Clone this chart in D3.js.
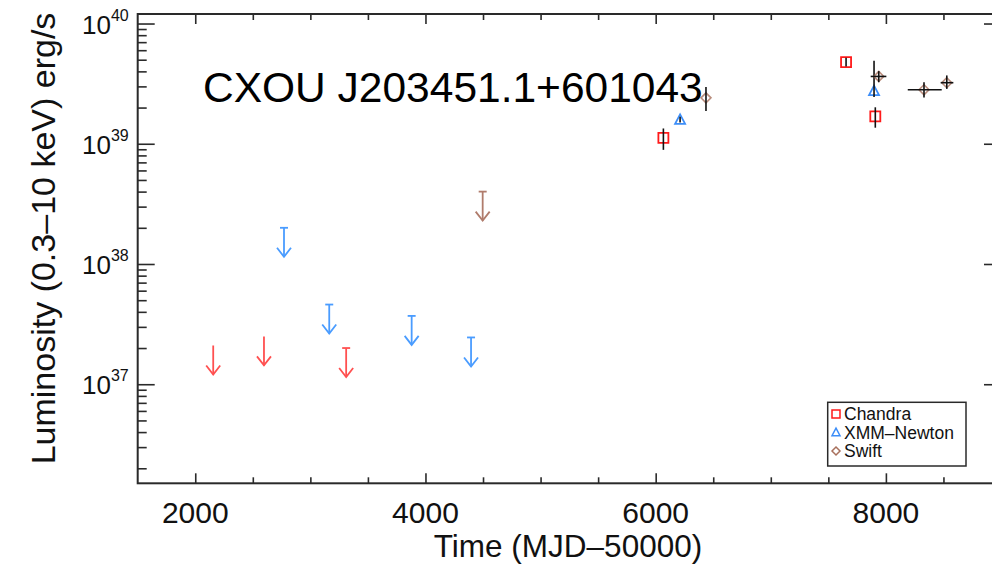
<!DOCTYPE html>
<html>
<head>
<meta charset="utf-8">
<script src="https://cdn.jsdelivr.net/npm/d3@7"></script>
<style>
  html, body { margin: 0; padding: 0; background: #fff; }
  svg { display: block; font-family: "Liberation Sans", Arial, Helvetica, sans-serif; }
</style>
</head>
<body>
<svg id="chart" width="992" height="567"></svg>
<script>
// ---------- data ----------
const sourceName = "CXOU J203451.1+601043";
const xTitle = "Time (MJD\u201350000)";
const yTitle = "Luminosity (0.3\u201310 keV) erg/s";
const xMajorTicks = [2000, 4000, 6000, 8000];
const yMajorExponents = [37, 38, 39, 40];
const legendLabels = ["Chandra", "XMM\u2013Newton", "Swift"];

// upper limits (value = limit, arrow points down)
const ulTime = [2156, 2597, 2771, 3164, 3311, 3880, 4396, 4497];
const ulLum = [2.1e37, 2.5e37, 2.0e38, 4.6e37, 2.0e37, 3.7e37, 2.45e37, 4.0e38];
const ulMission = ["Chandra", "Chandra", "XMM", "XMM", "Chandra", "XMM", "XMM", "Swift"];
const ulCapped = [false, false, true, true, true, true, true, true];

// Chandra detections
const chandraTime = [6067, 7654, 7908];
const chandraLum = [1.12e39, 4.77e39, 1.69e39];
const chandraLumLo = [8.9e38, 4.4e39, 1.36e39];
const chandraLumHi = [1.34e39, 5.2e39, 2.01e39];

// XMM-Newton detections
const xmmTime = [6212, 7897];
const xmmLum = [1.58e39, 2.74e39];
const xmmLumLo = [1.50e39, 2.45e39];
const xmmLumHi = [1.68e39, 4.9e39];

// Swift detections
const swiftTime = [6437, 7938, 8331, 8529];
const swiftTimeLo = [6437, 7868, 8190, 8476];
const swiftTimeHi = [6437, 8004, 8485, 8586];
const swiftLum = [2.41e39, 3.63e39, 2.81e39, 3.22e39];
const swiftLumLo = [1.87e39, 3.25e39, 2.42e39, 2.86e39];
const swiftLumHi = [2.96e39, 4.02e39, 3.25e39, 3.7e39];

// ---------- drawing ----------
(function draw() {
const colors = { Chandra: "#ff1a1a", XMM: "#3d8ef8", Swift: "#a8705c" };
const ulColors = { Chandra: "#ff5050", XMM: "#4a9cff", Swift: "#b07c6c" };

const svg = d3.select("#chart");
const pL = 137.7, pR = 1001, pT = 14, pB = 483.3;

const x = d3.scaleLinear().domain([1500, 9000]).range([pL, pR]);
const y = d3.scaleLog().domain([1.5e36, 1.2e40]).range([pB, pT]);

const axisColor = "#2a2a2a";

const xMinor = d3.range(1500, 9001, 500).filter(v => !xMajorTicks.includes(v) && v > 1500 && v < 9000);
function styleAxis(g) {
  g.select(".domain").remove();
  g.selectAll(".tick line").attr("stroke", axisColor).attr("stroke-width", 1.6);
  g.selectAll(".tick text").remove();
}
svg.append("g").attr("transform", `translate(0,${pB})`)
  .call(d3.axisBottom(x).tickValues(xMajorTicks).tickSize(-10)).call(styleAxis);
svg.append("g").attr("transform", `translate(0,${pB})`)
  .call(d3.axisBottom(x).tickValues(xMinor).tickSize(-6)).call(styleAxis);
svg.append("g").attr("transform", `translate(0,${pT})`)
  .call(d3.axisTop(x).tickValues(xMajorTicks).tickSize(-10)).call(styleAxis);
svg.append("g").attr("transform", `translate(0,${pT})`)
  .call(d3.axisTop(x).tickValues(xMinor).tickSize(-6)).call(styleAxis);

const yMajor = yMajorExponents.map(e => Math.pow(10, e));
const yMinor = [];
for (let e = 36; e <= 40; e++) for (let m = 2; m <= 9; m++) {
  const v = m * Math.pow(10, e);
  if (v > 1.5e36 && v < 1.2e40) yMinor.push(v);
}
svg.append("g").attr("transform", `translate(${pL},0)`)
  .call(d3.axisLeft(y).tickValues(yMajor).tickSize(-17)).call(styleAxis);
svg.append("g").attr("transform", `translate(${pL},0)`)
  .call(d3.axisLeft(y).tickValues(yMinor).tickSize(-9)).call(styleAxis);
svg.append("g").attr("transform", `translate(${pR},0)`)
  .call(d3.axisRight(y).tickValues(yMajor).tickSize(-17)).call(styleAxis);
svg.append("g").attr("transform", `translate(${pR},0)`)
  .call(d3.axisRight(y).tickValues(yMinor).tickSize(-9)).call(styleAxis);

svg.append("rect").attr("x", pL).attr("y", pT)
  .attr("width", pR - pL).attr("height", pB - pT)
  .attr("fill", "none").attr("stroke", axisColor).attr("stroke-width", 2);

svg.append("g").selectAll("text").data(xMajorTicks).join("text")
  .attr("x", d => x(d)).attr("y", pB + 40)
  .attr("text-anchor", "middle").attr("font-size", 30).attr("fill", "#111")
  .text(d => d);

const yl = svg.append("g").selectAll("text").data(yMajorExponents).join("text")
  .attr("x", pL - 9).attr("y", d => y(Math.pow(10, d)) + 10)
  .attr("text-anchor", "end").attr("fill", "#111");
yl.append("tspan").attr("font-size", 26).text("10");
yl.append("tspan").attr("font-size", 16).attr("dy", -13).text(d => d);

svg.append("text").attr("x", 568).attr("y", 557)
  .attr("text-anchor", "middle").attr("font-size", 31.5).attr("fill", "#111")
  .text(xTitle);
svg.append("text").attr("transform", `translate(55,238.5) rotate(-90)`)
  .attr("text-anchor", "middle").attr("font-size", 34).attr("fill", "#111")
  .text(yTitle);

svg.append("text").attr("x", 203).attr("y", 102)
  .attr("font-size", 42.5).attr("fill", "#000").text(sourceName);

// upper-limit arrows
const ul = svg.append("g").selectAll("g").data(ulTime.map((t, i) => i)).join("g")
  .attr("stroke", i => ulColors[ulMission[i]]).attr("stroke-width", 1.8).attr("fill", "none");
ul.append("line")
  .attr("x1", i => x(ulTime[i])).attr("x2", i => x(ulTime[i]))
  .attr("y1", i => y(ulLum[i])).attr("y2", i => y(ulLum[i]) + 29);
ul.append("path")
  .attr("d", i => {
    const cx = x(ulTime[i]), ty = y(ulLum[i]) + 29;
    return `M${cx - 7},${ty - 9}L${cx},${ty}L${cx + 7},${ty - 9}`;
  });
ul.filter(i => ulCapped[i]).append("line")
  .attr("x1", i => x(ulTime[i]) - 4).attr("x2", i => x(ulTime[i]) + 4)
  .attr("y1", i => y(ulLum[i])).attr("y2", i => y(ulLum[i]));

function square(cx, cy, s) { return `M${cx - s},${cy - s}H${cx + s}V${cy + s}H${cx - s}Z`; }
function triangle(cx, cy, s) { return `M${cx},${cy - s * 1.1}L${cx + s},${cy + s * 0.8}L${cx - s},${cy + s * 0.8}Z`; }
function diamond(cx, cy, s) { return `M${cx},${cy - s}L${cx + s},${cy}L${cx},${cy + s}L${cx - s},${cy}Z`; }

const ch = svg.append("g");
ch.selectAll("path").data(chandraTime.map((t, i) => i)).join("path")
  .attr("d", i => square(x(chandraTime[i]), y(chandraLum[i]), 5))
  .attr("fill", "none").attr("stroke", colors.Chandra).attr("stroke-width", 1.8);
ch.selectAll("line").data(chandraTime.map((t, i) => i)).join("line")
  .attr("x1", i => x(chandraTime[i])).attr("x2", i => x(chandraTime[i]))
  .attr("y1", i => y(chandraLumHi[i])).attr("y2", i => y(chandraLumLo[i]))
  .attr("stroke", "#111").attr("stroke-width", 1.6);

const xm = svg.append("g");
xm.selectAll("path").data(xmmTime.map((t, i) => i)).join("path")
  .attr("d", i => triangle(x(xmmTime[i]), y(xmmLum[i]), 5))
  .attr("fill", "none").attr("stroke", colors.XMM).attr("stroke-width", 1.8);
xm.selectAll("line").data(xmmTime.map((t, i) => i)).join("line")
  .attr("x1", i => x(xmmTime[i])).attr("x2", i => x(xmmTime[i]))
  .attr("y1", i => y(xmmLumHi[i])).attr("y2", i => y(xmmLumLo[i]))
  .attr("stroke", "#111").attr("stroke-width", 1.6);

const sw = svg.append("g");
sw.selectAll("path").data(swiftTime.map((t, i) => i)).join("path")
  .attr("d", i => diamond(x(swiftTime[i]), y(swiftLum[i]), 5))
  .attr("fill", "none").attr("stroke", colors.Swift).attr("stroke-width", 1.6).attr("stroke-opacity", 0.8);
sw.selectAll("line.v").data(swiftTime.map((t, i) => i)).join("line").attr("class", "v")
  .attr("x1", i => x(swiftTime[i])).attr("x2", i => x(swiftTime[i]))
  .attr("y1", i => y(swiftLumHi[i])).attr("y2", i => y(swiftLumLo[i]))
  .attr("stroke", "#111").attr("stroke-width", 1.6);
sw.selectAll("line.h").data(swiftTime.map((t, i) => i)).join("line").attr("class", "h")
  .attr("x1", i => x(swiftTimeLo[i])).attr("x2", i => x(swiftTimeHi[i]))
  .attr("y1", i => y(swiftLum[i])).attr("y2", i => y(swiftLum[i]))
  .attr("stroke", "#111").attr("stroke-width", 1.6);

const lg = svg.append("g");
lg.append("rect").attr("x", 827.7).attr("y", 402.3).attr("width", 138.3).attr("height", 63.7)
  .attr("fill", "#fff").attr("stroke", axisColor).attr("stroke-width", 1.5);
const legendShapes = [square, triangle, diamond];
const legendColors = [colors.Chandra, colors.XMM, colors.Swift];
legendLabels.forEach((lab, i) => {
  const cy = 414 + i * 18.5;
  lg.append("path").attr("d", legendShapes[i](836, cy, 4))
    .attr("fill", "none").attr("stroke", legendColors[i]).attr("stroke-width", 1.5);
  lg.append("text").attr("x", 844).attr("y", cy + 6).attr("font-size", 17.5).attr("fill", "#111").text(lab);
});
})();
</script>
</body>
</html>
